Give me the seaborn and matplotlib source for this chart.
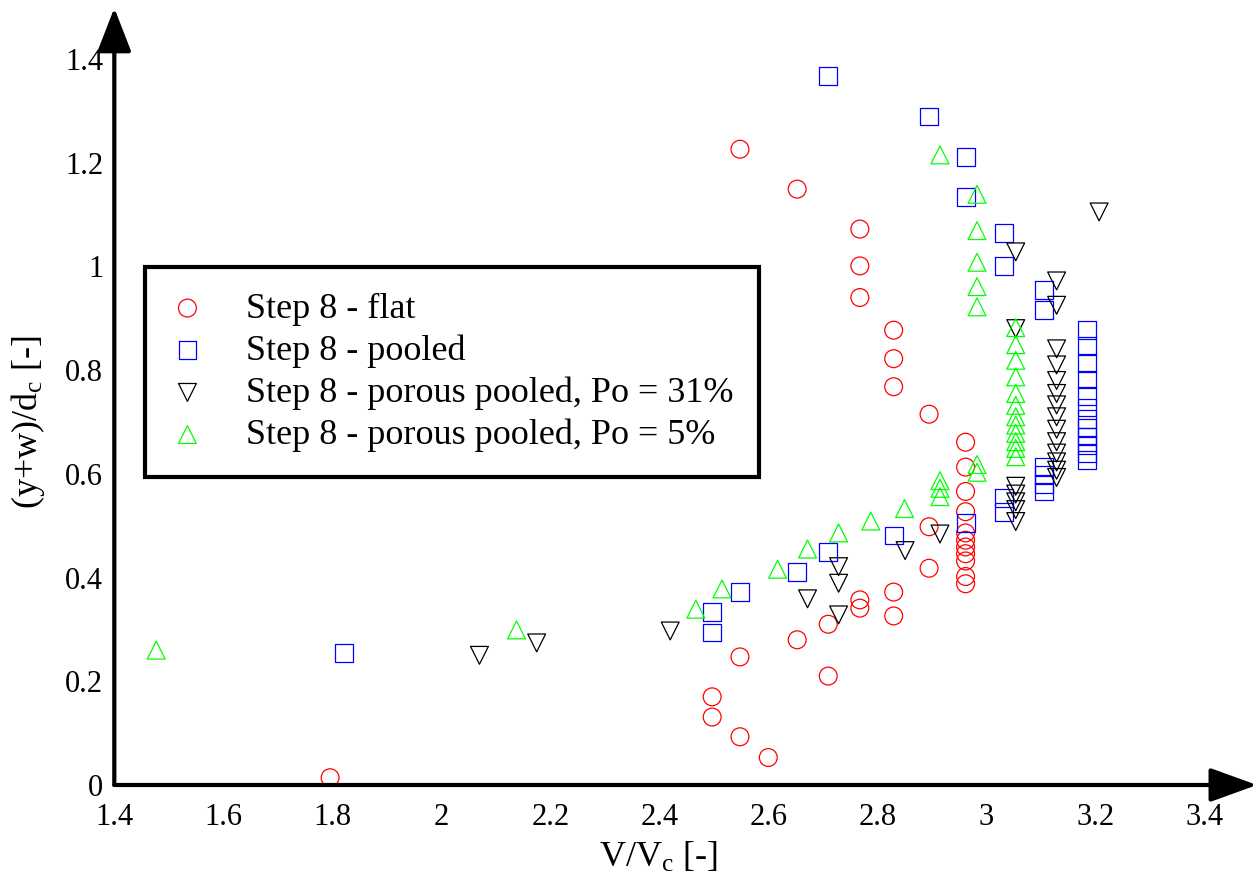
import matplotlib
matplotlib.use("Agg")
import matplotlib.pyplot as plt
import seaborn as sns
import pandas as pd

# ---------------- data ----------------
flat_x = [1.796, 2.497, 2.497, 2.548, 2.548, 2.548, 2.600, 2.653, 2.653, 2.710, 2.710,
          2.768, 2.768, 2.768, 2.768, 2.768, 2.830, 2.830, 2.830, 2.830, 2.830,
          2.895, 2.895, 2.895,
          2.962, 2.962, 2.962, 2.962, 2.962, 2.962, 2.962, 2.962, 2.962, 2.962, 2.962]
flat_y = [0.014, 0.170, 0.131, 1.226, 0.247, 0.093, 0.053, 1.149, 0.280, 0.310, 0.210,
          1.072, 1.001, 0.940, 0.357, 0.341, 0.877, 0.822, 0.768, 0.372, 0.326,
          0.715, 0.498, 0.418,
          0.661, 0.613, 0.566, 0.527, 0.486, 0.472, 0.459, 0.446, 0.432, 0.402, 0.388]

pooled_x = [1.821, 2.497, 2.497, 2.548, 2.653, 2.710, 2.710, 2.831, 2.895,
            2.962, 2.962, 2.962, 3.032, 3.032, 3.032, 3.032,
            3.106, 3.106, 3.106, 3.106, 3.106, 3.106,
            3.184, 3.184, 3.184, 3.184, 3.184, 3.184, 3.184, 3.184, 3.184, 3.184, 3.184, 3.184]
pooled_y = [0.255, 0.333, 0.294, 0.372, 0.411, 1.367, 0.450, 0.481, 1.289,
            1.211, 1.134, 0.505, 1.064, 1.001, 0.553, 0.527,
            0.955, 0.916, 0.613, 0.597, 0.581, 0.566,
            0.877, 0.846, 0.814, 0.782, 0.750, 0.728, 0.705, 0.689, 0.672, 0.656, 0.640, 0.627]

po31_x = [2.070, 2.175, 2.420, 2.672, 2.729, 2.729, 2.729, 2.851, 2.915,
          3.054, 3.054, 3.054, 3.054, 3.054, 3.054, 3.054,
          3.129, 3.129, 3.129, 3.129, 3.129, 3.129, 3.129, 3.129, 3.129, 3.129, 3.129, 3.129, 3.129, 3.129,
          3.207]
po31_y = [0.250, 0.274, 0.297, 0.359, 0.421, 0.389, 0.328, 0.452, 0.484,
          1.028, 0.880, 0.576, 0.561, 0.546, 0.531, 0.508,
          0.972, 0.925, 0.841, 0.810, 0.780, 0.755, 0.733, 0.710, 0.686, 0.662, 0.640, 0.623, 0.607, 0.593,
          1.105]

po5_x = [1.477, 2.138, 2.467, 2.515, 2.617, 2.672, 2.729, 2.788, 2.850,
         2.915, 2.915, 2.915, 2.915,
         2.983, 2.983, 2.983, 2.983, 2.983, 2.983, 2.983,
         3.054, 3.054, 3.054, 3.054, 3.054, 3.054, 3.054, 3.054, 3.054, 3.054, 3.054, 3.054]
po5_y = [0.260, 0.299, 0.339, 0.378, 0.416, 0.455, 0.486, 0.509, 0.533,
         1.215, 0.587, 0.572, 0.556,
         1.139, 1.069, 1.008, 0.961, 0.922, 0.618, 0.603,
         0.882, 0.849, 0.819, 0.787, 0.755, 0.732, 0.710, 0.694, 0.678, 0.662, 0.649, 0.633]

series_labels = ["Step 8 - flat", "Step 8 - pooled",
                 "Step 8 - porous pooled, Po = 31%", "Step 8 - porous pooled, Po = 5%"]

x_ticks = [1.4, 1.6, 1.8, 2.0, 2.2, 2.4, 2.6, 2.8, 3.0, 3.2, 3.4]
x_tick_labels = ["1.4", "1.6", "1.8", "2", "2.2", "2.4", "2.6", "2.8", "3", "3.2", "3.4"]
y_ticks = [0.0, 0.2, 0.4, 0.6, 0.8, 1.0, 1.2, 1.4]
y_tick_labels = ["0", "0.2", "0.4", "0.6", "0.8", "1", "1.2", "1.4"]

# ---------------- style ----------------
sns.set_style("white")
plt.rcParams["font.family"] = ["Liberation Serif", "DejaVu Serif"]
plt.rcParams["mathtext.fontset"] = "custom"
plt.rcParams["mathtext.rm"] = "Liberation Serif"
plt.rcParams["mathtext.it"] = "Liberation Serif:italic"
plt.rcParams["text.color"] = "black"
plt.rcParams["axes.labelcolor"] = "black"
plt.rcParams["xtick.color"] = "black"
plt.rcParams["ytick.color"] = "black"

W, H = 1259, 881
fig = plt.figure(figsize=(W / 100, H / 100), dpi=100)
ax_l, ax_r, ax_t, ax_b = 114.3, 1257, 8, 785
ax = fig.add_axes([ax_l / W, (H - ax_b) / H, (ax_r - ax_l) / W, (ax_b - ax_t) / H])

colors = ["#ff0000", "#0000ff", "#000000", "#00ff00"]
markers = ["o", "s", "v", "^"]
xs = [flat_x, pooled_x, po31_x, po5_x]
ys = [flat_y, pooled_y, po31_y, po5_y]

for xv, yv, lab, c, m in zip(xs, ys, series_labels, colors, markers):
    df = pd.DataFrame({"x": xv, "y": yv})
    sns.scatterplot(data=df, x="x", y="y", ax=ax, marker=m, s=165,
                    facecolor="none", edgecolor=c, color=c, linewidth=0.9,
                    label=lab, zorder=3)

xmax = 1.4 + (ax_r - ax_l) / 545.0
ymax = (ax_b - ax_t) / 518.6
ax.set_xlim(1.4, xmax)
ax.set_ylim(0, ymax)

for s in ax.spines.values():
    s.set_visible(False)

ax.set_xticks(x_ticks)
ax.set_xticklabels(x_tick_labels)
ax.set_yticks(y_ticks)
ax.set_yticklabels(y_tick_labels)
ax.tick_params(axis="both", direction="in", length=11.5, width=2.2, color="black",
               labelsize=22, labelcolor="black")
ax.tick_params(axis="x", pad=13)
ax.tick_params(axis="y", pad=8)

# axis lines with arrow heads
ax.annotate("", xy=(1, 0), xytext=(0, 0), xycoords="axes fraction",
            textcoords="axes fraction",
            arrowprops=dict(arrowstyle="-|>,head_length=2.9,head_width=1.05",
                            mutation_scale=10, lw=3, color="black",
                            shrinkA=0, shrinkB=0), annotation_clip=False)
ax.annotate("", xy=(0, 1), xytext=(0, 0), xycoords="axes fraction",
            textcoords="axes fraction",
            arrowprops=dict(arrowstyle="-|>,head_length=2.7,head_width=1.05",
                            mutation_scale=10, lw=3, color="black",
                            shrinkA=0, shrinkB=0), annotation_clip=False)

ax.set_xlabel(r"V/V$_\mathrm{c}$ [-]", fontsize=26, va="center", color="black")
ax.xaxis.set_label_coords((658 - ax_l) / (ax_r - ax_l), (ax_b - 858) / (ax_b - ax_t))
ax.set_ylabel(r"(y+w)/d$_\mathrm{c}$ [-]", fontsize=26, va="center", color="black")
ax.yaxis.set_label_coords((28 - ax_l) / (ax_r - ax_l), (ax_b - 422) / (ax_b - ax_t))

leg = ax.legend(loc="upper left",
                bbox_to_anchor=((145 - ax_l) / (ax_r - ax_l), (ax_b - 267) / (ax_b - ax_t)),
                borderaxespad=0, fontsize=26, frameon=True, fancybox=False,
                borderpad=0.7, handlelength=0.95, handletextpad=1.15,
                labelspacing=0.24, markerscale=1.0)
for t in leg.get_texts():
    t.set_color("black")
frame = leg.get_frame()
frame.set_edgecolor("black")
frame.set_linewidth(3)
frame.set_facecolor("white")
frame.set_alpha(1)

fig.savefig("out.png", dpi=100)
